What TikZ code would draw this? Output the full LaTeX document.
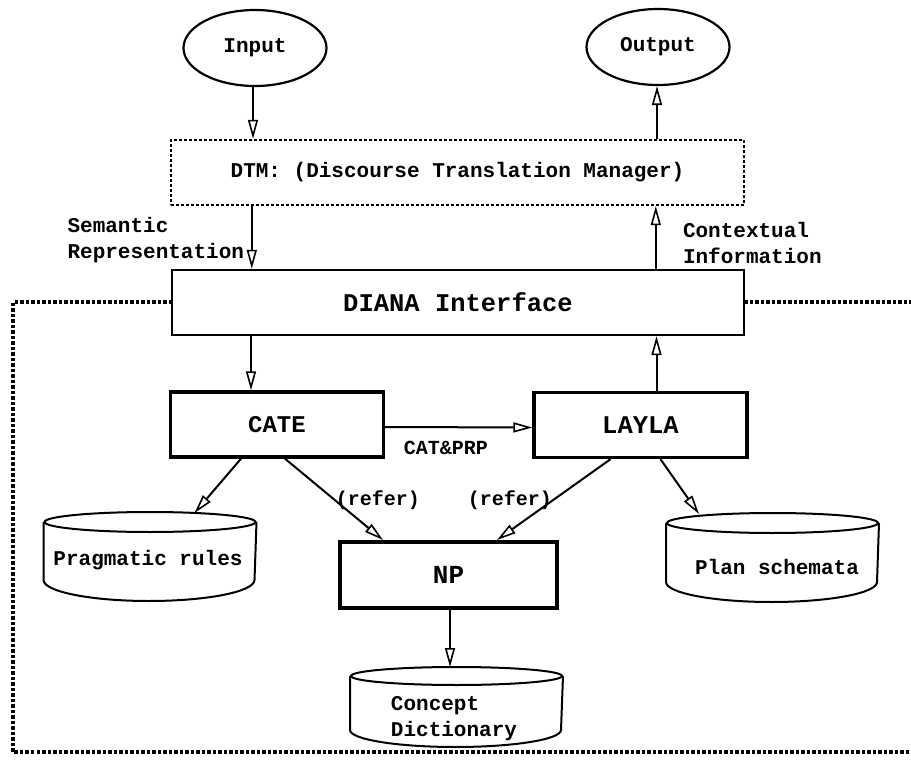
\documentclass[tikz,border=0pt]{standalone}
\usepackage{fontspec}
\setmainfont{Liberation Mono}
\usetikzlibrary{arrows.meta,shapes.geometric}
\newcommand\dbshape[3]{%
  \draw[line width=2pt] ([yshift=-#2pt]#1.north) ellipse [x radius=105.5pt, y radius=#2pt];
  \draw[line width=2pt] ([yshift=-#2pt]#1.north west) -- ([yshift=#3pt]#1.south west)
     arc [start angle=180, end angle=360, x radius=105.5pt, y radius=#3pt]
     -- ([yshift=-#2pt]#1.north east);}
\begin{document}
\begin{tikzpicture}[x=1pt,y=-1pt,
  every node/.style={font=\bfseries\fontsize{21}{21}\selectfont},
  line width=2pt,
  arr/.style={-{Triangle[open,length=19pt,width=10pt,line width=1.6pt]}},
  ell/.style={draw,ellipse,line width=2.2pt,minimum width=143pt,minimum height=76pt,inner sep=0pt},
  dots/.style={draw,line width=2.4pt,dash pattern=on 3pt off 2pt},
  bigdots/.style={line width=4pt,dash pattern=on 3.5pt off 2pt},
  plainbox/.style={draw,line width=2.4pt,inner sep=0pt},
  modbox/.style={draw,line width=3.4pt,inner sep=0pt,minimum width=213pt,minimum height=65pt,font=\bfseries\fontsize{24}{24}\selectfont},
  store/.style={minimum width=211pt,inner sep=0pt},
  lbl/.style={inner sep=0pt}]
\useasboundingbox (0,0) rectangle (911,760);

% outer dotted boundary
\draw[bigdots] (172,302) -- (13,302) -- (13,752) -- (915,752);
\draw[bigdots] (744,302) -- (915,302);

\node[ell] (in) at (255,48) {Input};
\node[ell] (out) at (658,47) {Output};

\node[dots,minimum width=573pt,minimum height=65pt,inner sep=0pt] (dtm) at (457.5,172.5) {DTM: (Discourse Translation Manager)};

\node[plainbox,fill=white,minimum width=572pt,minimum height=65pt,font=\bfseries\fontsize{25.5}{25.5}\selectfont] (diana) at (458,302.5) {DIANA Interface};

\node[modbox] (cate) at (277,424.5) {CATE};
\node[modbox,font=\bfseries\fontsize{25.5}{25.5}\selectfont] (layla) at (640.5,425) {LAYLA};
\node[modbox,line width=4pt,minimum width=217pt,minimum height=66pt,font=\bfseries\fontsize{26}{26}\selectfont] (np) at (448.5,575) {NP};

\node[store,minimum height=87pt] (prag) at (150,556.5) {};
\dbshape{prag}{10}{21}
\node[lbl] (pragt) at (148,560) {Pragmatic rules};
\node[store,minimum height=87pt] (plan) at (772.5,557.5) {};
\dbshape{plan}{10}{20}
\node[lbl] (plant) at (777,567) {Plan schemata};
\node[store,minimum height=78pt] (dict) at (456.5,707) {};
\dbshape{dict}{9}{17}
\node[lbl,align=left] (dictt) at (454,719) {Concept\\[5pt]Dictionary};

% connectors
\draw[arr] ([xshift=-2pt]in.south) -- ([xshift=-2pt]in.south |- dtm.north);
\draw[arr] ([xshift=-1pt]out.south |- dtm.north) -- ([xshift=-1pt]out.south);
\draw[arr] ([xshift=82pt]dtm.south west) -- ([xshift=82pt]dtm.south west |- diana.north);
\draw[arr] ([xshift=486pt]dtm.south west |- diana.north) -- ([xshift=486pt]dtm.south west);
\draw[arr] ([xshift=-26pt]cate.north |- diana.south) -- ([xshift=-26pt]cate.north);
\draw[arr] ([xshift=16pt]layla.north) -- ([xshift=16pt]layla.north |- diana.south);
\draw[arr] ([yshift=-2.5pt]cate.east) -- ([yshift=-2.5pt]layla.west);
\draw[arr] ([xshift=-36pt]cate.south) -- ([xshift=151pt,yshift=-1pt]prag.north west);
\draw[arr] ([xshift=8pt]cate.south) -- ([xshift=45pt]np.north west);
\draw[arr] ([xshift=-30pt]layla.south) -- ([xshift=-62pt]np.north east);
\draw[arr] ([xshift=20pt]layla.south) -- ([xshift=33pt,yshift=-1pt]plan.north west);
\draw[arr] ([xshift=1.5pt]np.south) -- ([xshift=1.5pt]np.south |- dict.north);

% labels
\node[lbl,align=left,anchor=east] (sem) at (245,240) {Semantic\\[5pt]Representation};
\node[lbl,align=left,anchor=west] (ctx) at (682,243) {Contextual\\[5pt]Information};
\node[lbl,font=\bfseries\fontsize{20}{20}\selectfont] (cp) at (446,448) {CAT\&PRP};
\node[lbl,font=\bfseries\fontsize{20}{20}\selectfont] (r1) at (378,500) {(refer)};
\node[lbl,font=\bfseries\fontsize{20}{20}\selectfont] (r2) at (510,500) {(refer)};
\end{tikzpicture}
\end{document}
